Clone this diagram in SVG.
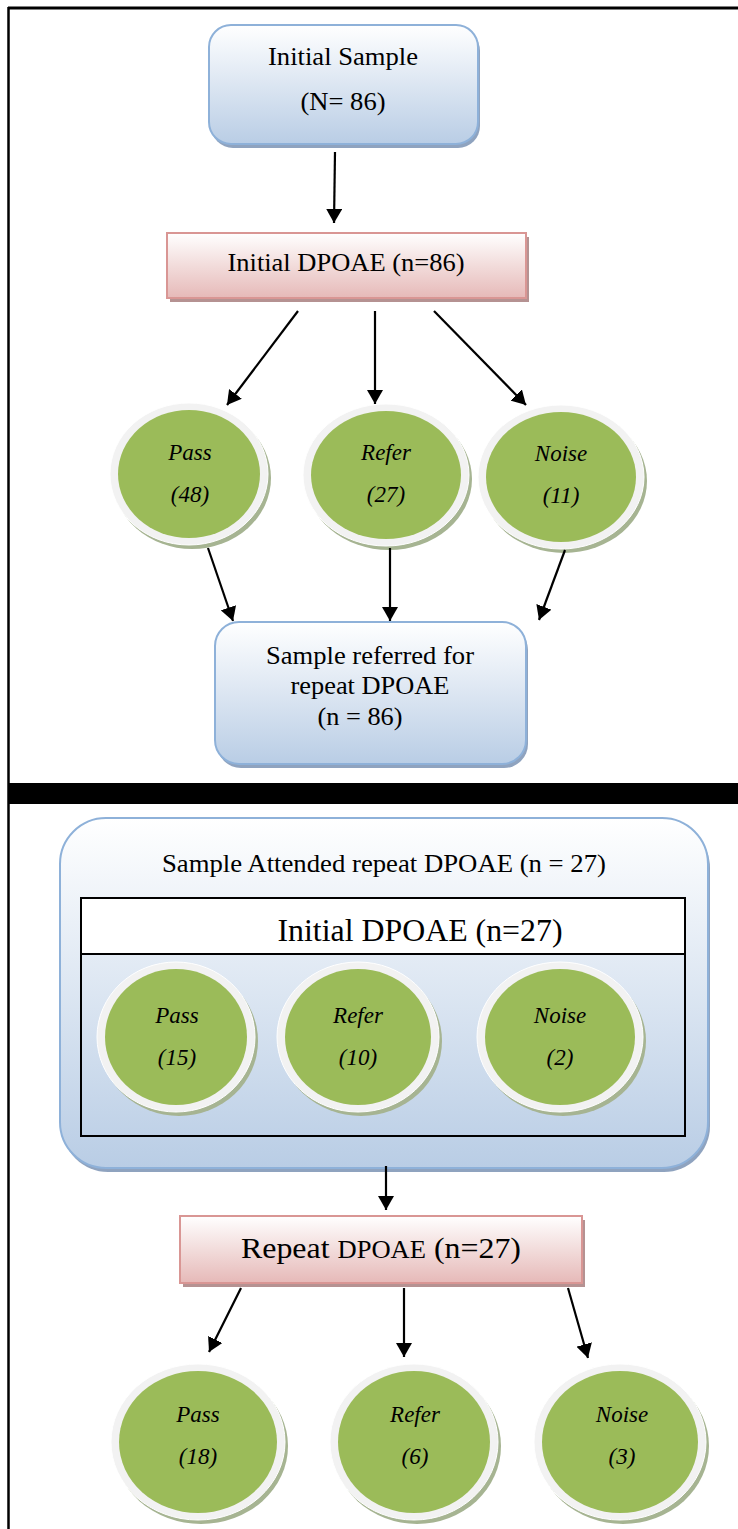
<svg xmlns="http://www.w3.org/2000/svg" width="738" height="1529" viewBox="0 0 738 1529">
  <defs>
    <linearGradient id="blueFill" x1="0" y1="0" x2="0" y2="1">
      <stop offset="0" stop-color="#ffffff"/>
      <stop offset="0.5" stop-color="#dce6f2"/>
      <stop offset="1" stop-color="#b9cde5"/>
    </linearGradient>
    <linearGradient id="pinkFill" x1="0" y1="0" x2="0" y2="1">
      <stop offset="0" stop-color="#ffffff"/>
      <stop offset="0.5" stop-color="#f2dcdb"/>
      <stop offset="1" stop-color="#e6b9b8"/>
    </linearGradient>
    <marker id="arrow" markerUnits="userSpaceOnUse" markerWidth="16" markerHeight="16" refX="14" refY="8" orient="auto">
      <path d="M0,0 L14,8 L0,16 Z" fill="#000"/>
    </marker>
    <style>
      .serif { font-family: "Liberation Serif", "Times New Roman", serif; fill: #000; }
      .lbl { font-family: "Liberation Serif", "Times New Roman", serif; font-style: italic; font-size: 23px; fill: #000; text-anchor: middle; }
      .mid { text-anchor: middle; }
      .bluebox { fill: url(#blueFill); stroke: #8eb1d9; stroke-width: 2; }
      .blueshadow { fill: #8fa3bf; }
      .pinkbox { fill: url(#pinkFill); stroke: #d99694; stroke-width: 2; }
      .pinkshadow { fill: #b59292; }
      .ringshadow { fill: #a6b492; }
      .ring { fill: #f2f2f2; stroke: #ffffff; stroke-width: 1; }
      .green { fill: #9bbb59; }
      .conn line { stroke: #000; stroke-width: 2.2; marker-end: url(#arrow); }
    </style>
  </defs>

  <rect x="0" y="0" width="738" height="1529" fill="#ffffff"/>

  <!-- page frame and divider -->
  <line x1="8" y1="8" x2="738" y2="8" stroke="#000" stroke-width="3"/>
  <line x1="8.5" y1="7" x2="8.5" y2="1529" stroke="#000" stroke-width="2.5"/>
  <rect x="8" y="783" width="730" height="21" fill="#000"/>

  <!-- upper flow -->
  <g id="initial-sample">
    <rect class="blueshadow" x="211" y="29" width="269" height="119" rx="22"/>
    <rect class="bluebox" x="209" y="25" width="269" height="119" rx="22"/>
    <text class="serif mid" x="343" y="65" font-size="26" textLength="150" lengthAdjust="spacingAndGlyphs">Initial Sample</text>
    <text class="serif mid" x="343" y="110" font-size="26" textLength="85" lengthAdjust="spacingAndGlyphs">(N= 86)</text>
  </g>

  <g id="initial-dpoae-86">
    <rect class="pinkshadow" x="170" y="237" width="359" height="65"/>
    <rect class="pinkbox" x="167" y="233" width="359" height="65"/>
    <text class="serif mid" x="346" y="271" font-size="26" textLength="237" lengthAdjust="spacingAndGlyphs">Initial DPOAE (n=86)</text>
  </g>

  <g id="pass-48">
    <ellipse class="ringshadow" cx="192" cy="478" rx="79" ry="71"/>
    <ellipse class="ring" cx="189" cy="474" rx="79" ry="71"/>
    <ellipse class="green" cx="189" cy="474" rx="71" ry="64"/>
    <text class="lbl" x="190" y="460">Pass</text>
    <text class="lbl" x="190" y="502">(48)</text>
  </g>
  <g id="refer-27">
    <ellipse class="ringshadow" cx="389" cy="479" rx="83" ry="71"/>
    <ellipse class="ring" cx="386" cy="475" rx="83" ry="71"/>
    <ellipse class="green" cx="386" cy="475" rx="75" ry="64"/>
    <text class="lbl" x="386" y="460">Refer</text>
    <text class="lbl" x="386" y="502">(27)</text>
  </g>
  <g id="noise-11">
    <ellipse class="ringshadow" cx="564" cy="481" rx="83" ry="72"/>
    <ellipse class="ring" cx="561" cy="477" rx="83" ry="72"/>
    <ellipse class="green" cx="561" cy="477" rx="75" ry="65"/>
    <text class="lbl" x="561" y="461">Noise</text>
    <text class="lbl" x="561" y="503">(11)</text>
  </g>

  <g id="sample-referred">
    <rect class="blueshadow" x="217" y="626" width="311" height="142" rx="24"/>
    <rect class="bluebox" x="215" y="622" width="311" height="142" rx="24"/>
    <text class="serif mid" x="370" y="664" font-size="26" textLength="208" lengthAdjust="spacingAndGlyphs">Sample referred for</text>
    <text class="serif mid" x="370" y="694" font-size="26" textLength="159" lengthAdjust="spacingAndGlyphs">repeat DPOAE</text>
    <text class="serif mid" x="360" y="725" font-size="26" textLength="85" lengthAdjust="spacingAndGlyphs">(n = 86)</text>
  </g>

  <!-- lower flow -->
  <g id="sample-attended">
    <rect class="blueshadow" x="62" y="822" width="648" height="350" rx="46"/>
    <rect class="bluebox" x="60" y="818" width="648" height="350" rx="46"/>
    <text class="serif mid" x="384" y="872" font-size="25" textLength="444" lengthAdjust="spacingAndGlyphs">Sample Attended repeat DPOAE (n = 27)</text>
    <rect x="81" y="898" width="604" height="238" fill="none" stroke="#000" stroke-width="2"/>
    <rect x="82" y="899" width="602" height="55" fill="#ffffff"/>
    <line x1="81" y1="954" x2="685" y2="954" stroke="#000" stroke-width="2"/>
    <text class="serif mid" x="420" y="941" font-size="32" textLength="285" lengthAdjust="spacingAndGlyphs">Initial DPOAE (n=27)</text>
  </g>

  <g id="pass-15">
    <ellipse class="ringshadow" cx="179" cy="1041" rx="79" ry="75"/>
    <ellipse class="ring" cx="176" cy="1037" rx="79" ry="75"/>
    <ellipse class="green" cx="176" cy="1037" rx="71" ry="68"/>
    <text class="lbl" x="177" y="1023">Pass</text>
    <text class="lbl" x="177" y="1065">(15)</text>
  </g>
  <g id="refer-10">
    <ellipse class="ringshadow" cx="361" cy="1041" rx="81" ry="75"/>
    <ellipse class="ring" cx="358" cy="1037" rx="81" ry="75"/>
    <ellipse class="green" cx="358" cy="1037" rx="73" ry="68"/>
    <text class="lbl" x="358" y="1023">Refer</text>
    <text class="lbl" x="358" y="1065">(10)</text>
  </g>
  <g id="noise-2">
    <ellipse class="ringshadow" cx="563" cy="1041" rx="83" ry="75"/>
    <ellipse class="ring" cx="560" cy="1037" rx="83" ry="75"/>
    <ellipse class="green" cx="560" cy="1037" rx="75" ry="68"/>
    <text class="lbl" x="560" y="1023">Noise</text>
    <text class="lbl" x="560" y="1065">(2)</text>
  </g>

  <g id="repeat-dpoae">
    <rect class="pinkshadow" x="183" y="1220" width="402" height="67"/>
    <rect class="pinkbox" x="180" y="1216" width="402" height="67"/>
    <text class="serif mid" x="381" y="1258" font-size="30" textLength="280" lengthAdjust="spacingAndGlyphs">Repeat <tspan font-size="25">DPOAE</tspan> (n=27)</text>
  </g>

  <g id="pass-18">
    <ellipse class="ringshadow" cx="201" cy="1446" rx="87" ry="78"/>
    <ellipse class="ring" cx="198" cy="1442" rx="87" ry="78"/>
    <ellipse class="green" cx="198" cy="1442" rx="79" ry="71"/>
    <text class="lbl" x="198" y="1422">Pass</text>
    <text class="lbl" x="198" y="1464">(18)</text>
  </g>
  <g id="refer-6">
    <ellipse class="ringshadow" cx="417" cy="1446" rx="84" ry="78"/>
    <ellipse class="ring" cx="414" cy="1442" rx="84" ry="78"/>
    <ellipse class="green" cx="414" cy="1442" rx="76" ry="71"/>
    <text class="lbl" x="415" y="1422">Refer</text>
    <text class="lbl" x="415" y="1464">(6)</text>
  </g>
  <g id="noise-3">
    <ellipse class="ringshadow" cx="623" cy="1446" rx="86" ry="78"/>
    <ellipse class="ring" cx="620" cy="1442" rx="86" ry="78"/>
    <ellipse class="green" cx="620" cy="1442" rx="78" ry="71"/>
    <text class="lbl" x="622" y="1422">Noise</text>
    <text class="lbl" x="622" y="1464">(3)</text>
  </g>

  <!-- connectors -->
  <g id="connectors" class="conn">
    <line x1="335" y1="152" x2="334" y2="223"/>
    <line x1="298" y1="311" x2="227" y2="405"/>
    <line x1="375" y1="311" x2="375" y2="404"/>
    <line x1="434" y1="311" x2="526" y2="405"/>
    <line x1="208" y1="548" x2="233" y2="621"/>
    <line x1="390" y1="548" x2="390" y2="621"/>
    <line x1="565" y1="550" x2="539" y2="620"/>
    <line x1="386" y1="1166" x2="386" y2="1210"/>
    <line x1="241" y1="1288" x2="209" y2="1352"/>
    <line x1="404" y1="1288" x2="404" y2="1357"/>
    <line x1="568" y1="1288" x2="588" y2="1358"/>
  </g>
</svg>
